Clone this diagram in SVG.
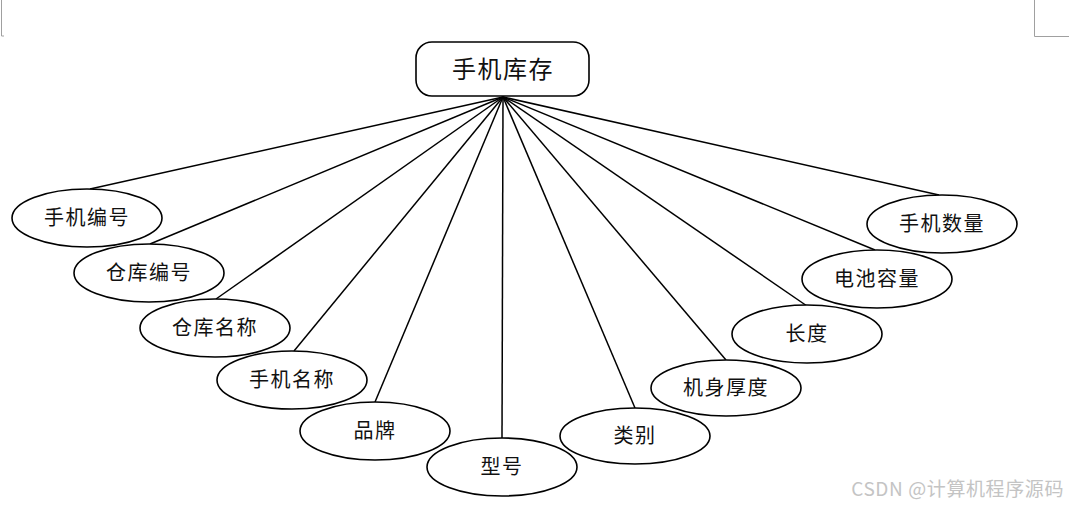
<svg xmlns="http://www.w3.org/2000/svg" width="1069" height="505" viewBox="0 0 1069 505">
<style>
.e{fill:#fff;stroke:#000;stroke-width:1.6}
.t{font-family:"Noto Sans CJK SC","Noto Sans",sans-serif;font-size:20px;fill:#111;text-anchor:middle;dominant-baseline:central;letter-spacing:1.5px}
.c line{stroke:#000;stroke-width:1.5}
.m{stroke:#a0a0a0;stroke-width:1;fill:none}
</style>
<rect width="1069" height="505" fill="#fff"/>
<path class="m" d="M1.5 0V36H4M1034.5 0V36.5H1069"/>
<g id="connectors" class="c">
<line x1="503" y1="97" x2="90" y2="189"/>
<line x1="503" y1="97" x2="150" y2="244"/>
<line x1="503" y1="97" x2="216" y2="299"/>
<line x1="503" y1="97" x2="294" y2="351"/>
<line x1="503" y1="97" x2="375" y2="402"/>
<line x1="503" y1="97" x2="502" y2="438"/>
<line x1="503" y1="97" x2="635" y2="408"/>
<line x1="503" y1="97" x2="726" y2="360"/>
<line x1="503" y1="97" x2="807" y2="306"/>
<line x1="503" y1="97" x2="875" y2="250"/>
<line x1="503" y1="97" x2="939" y2="195"/>
</g>
<g id="root">
<rect x="416" y="42" width="173" height="54" rx="16" fill="#fff" stroke="#000" stroke-width="1.6"/>
<text class="t" x="503" y="67" style="font-size:24px">手机库存</text>
</g>
<g id="n1"><ellipse class="e" cx="87" cy="218" rx="75" ry="29"/><text class="t" x="87" y="216">手机编号</text></g>
<g id="n2"><ellipse class="e" cx="149" cy="273" rx="75" ry="29"/><text class="t" x="149" y="271">仓库编号</text></g>
<g id="n3"><ellipse class="e" cx="215" cy="328" rx="75" ry="29"/><text class="t" x="215" y="326">仓库名称</text></g>
<g id="n4"><ellipse class="e" cx="292" cy="380" rx="75" ry="29"/><text class="t" x="292" y="378">手机名称</text></g>
<g id="n5"><ellipse class="e" cx="375" cy="431" rx="75" ry="29"/><text class="t" x="375" y="429">品牌</text></g>
<g id="n6"><ellipse class="e" cx="502" cy="467" rx="75" ry="29"/><text class="t" x="502" y="465">型号</text></g>
<g id="n7"><ellipse class="e" cx="635" cy="436" rx="75" ry="28"/><text class="t" x="635" y="434">类别</text></g>
<g id="n8"><ellipse class="e" cx="726" cy="388" rx="75" ry="28"/><text class="t" x="726" y="386">机身厚度</text></g>
<g id="n9"><ellipse class="e" cx="807" cy="334" rx="75" ry="29"/><text class="t" x="807" y="332">长度</text></g>
<g id="n10"><ellipse class="e" cx="877" cy="279" rx="75" ry="29"/><text class="t" x="877" y="277">电池容量</text></g>
<g id="n11"><ellipse class="e" cx="942" cy="224" rx="75" ry="29"/><text class="t" x="942" y="222">手机数量</text></g>
<text x="1064" y="487" style="font-family:'Noto Sans CJK SC','Noto Sans',sans-serif;font-size:19px;fill:#c4c4c4;text-anchor:end;dominant-baseline:central;letter-spacing:0.6px">CSDN @计算机程序源码</text>
</svg>
